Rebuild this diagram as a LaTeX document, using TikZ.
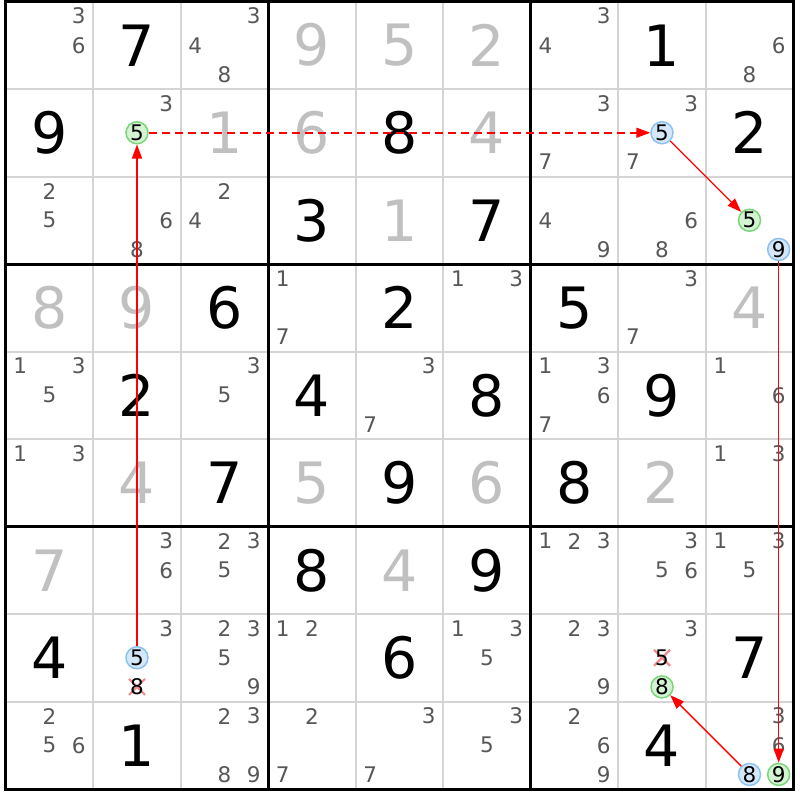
\documentclass[tikz,border=0pt]{standalone}
\usepackage{fontspec}
\setmainfont{DejaVu Sans}
\usetikzlibrary{arrows.meta,calc}
\definecolor{solvedcol}{HTML}{C0C0C0}
\definecolor{candcol}{HTML}{575757}
\definecolor{gridthin}{HTML}{D4D4D4}
\definecolor{greenfill}{HTML}{D3F3D3}
\definecolor{greenline}{HTML}{7CD47C}
\definecolor{bluefill}{HTML}{D5E8FA}
\definecolor{blueline}{HTML}{8CC2F2}
\definecolor{xcol}{HTML}{F28C8C}
\definecolor{linkred}{HTML}{FF0000}
\begin{document}
\begin{tikzpicture}[x=1pt,y=-1pt,
  bigdigit/.style={inner sep=0pt, font=\fontsize{57}{60}\selectfont},
  givenbig/.style={bigdigit, text=black},
  solvedbig/.style={bigdigit, text=solvedcol},
  cand/.style={inner sep=0pt, font=\fontsize{21.5}{23}\selectfont, text=candcol},
  greenc/.style={circle, draw=greenline, fill=greenfill, line width=1.5pt, minimum size=22pt, inner sep=0pt, font=\fontsize{21.5}{23}\selectfont, text=black},
  bluec/.style={greenc, draw=blueline, fill=bluefill},
  xcand/.style={cand, text=black},
  link/.style={color=linkred, line width=1.3pt, -{Triangle[length=14pt,width=10pt]}},
  weaklink/.style={link, line width=1.5pt, dash pattern=on 8pt off 5pt},
  xmark/.style={draw=xcol, line width=2.2pt},
  thinline/.style={draw=gridthin, line width=2pt},
  thickline/.style={draw=black, line width=3pt}
]
\def\ox{5.75}
\useasboundingbox (0,0) rectangle (800,800);
\fill[white] (0,0) rectangle (800,800);
% grid
\foreach \i in {1,2,4,5,7,8} {
  \draw[thinline] ({\ox+\i*87.5},1.5) -- ({\ox+\i*87.5},789);
  \draw[thinline] (\ox,{1.5+\i*87.5}) -- ({\ox+787.5},{1.5+\i*87.5});
}
\foreach \i in {3,6} {
  \draw[thickline] ({\ox+\i*87.5},1.5) -- ({\ox+\i*87.5},789);
  \draw[thickline] (\ox,{1.5+\i*87.5}) -- ({\ox+787.5},{1.5+\i*87.5});
}
\draw[thickline] (\ox,1.5) rectangle ({\ox+787.5},789);
% givens
\foreach \ro/\co/\vv in {1/2/7, 1/8/1, 2/1/9, 2/5/8, 2/9/2, 3/4/3, 3/6/7, 4/3/6, 4/5/2, 4/7/5, 5/2/2, 5/4/4, 5/6/8, 5/8/9, 6/3/7, 6/5/9, 6/7/8, 7/4/8, 7/6/9, 8/1/4, 8/5/6, 8/9/7, 9/2/1, 9/8/4}
  \node[givenbig] (v\ro\co) at ({\ox+(\co-0.5)*87.5},{1.5+(\ro-0.5)*87.5}) {\vv};
\foreach \ro/\co/\vv in {1/4/9, 1/5/5, 1/6/2, 2/3/1, 2/4/6, 2/6/4, 3/5/1, 4/1/8, 4/2/9, 4/9/4, 6/2/4, 6/4/5, 6/6/6, 6/8/2, 7/1/7, 7/5/4}
  \node[solvedbig] (v\ro\co) at ({\ox+(\co-0.5)*87.5},{1.5+(\ro-0.5)*87.5}) {\vv};
% candidates
\foreach \ro/\co/\kk in {1/1/3, 1/1/6, 1/3/3, 1/3/4, 1/3/8, 1/7/3, 1/7/4, 1/9/6, 1/9/8,
  2/2/3, 2/7/3, 2/7/7, 2/8/3, 2/8/7,
  3/1/2, 3/1/5, 3/2/6, 3/2/8, 3/3/2, 3/3/4, 3/7/4, 3/7/9, 3/8/6, 3/8/8,
  4/4/1, 4/4/7, 4/6/1, 4/6/3, 4/8/3, 4/8/7,
  5/1/1, 5/1/3, 5/1/5, 5/3/3, 5/3/5, 5/5/3, 5/5/7, 5/7/1, 5/7/3, 5/7/6, 5/7/7, 5/9/1, 5/9/6,
  6/1/1, 6/1/3, 6/9/1, 6/9/3,
  7/2/3, 7/2/6, 7/3/2, 7/3/3, 7/3/5, 7/7/1, 7/7/2, 7/7/3, 7/8/3, 7/8/5, 7/8/6, 7/9/1, 7/9/3, 7/9/5,
  8/2/3, 8/3/2, 8/3/3, 8/3/5, 8/3/9, 8/4/1, 8/4/2, 8/6/1, 8/6/3, 8/6/5, 8/7/2, 8/7/3, 8/7/9, 8/8/3,
  9/1/2, 9/1/5, 9/1/6, 9/3/2, 9/3/3, 9/3/8, 9/3/9, 9/4/2, 9/4/7, 9/5/3, 9/5/7, 9/6/3, 9/6/5, 9/7/2, 9/7/6, 9/7/9, 9/9/3, 9/9/6}
  \node[cand] (k\ro\co\kk) at ({\ox+(\co-1)*87.5+(mod(\kk-1,3)+0.5)*29.1667},{1.5+(\ro-1)*87.5+(floor((\kk-1)/3)+0.5)*29.1667}) {\kk};
% eliminated candidates
\foreach \ro/\co/\kk in {8/2/8, 8/8/5} {
  \coordinate (p\ro\co\kk) at ({\ox+(\co-1)*87.5+(mod(\kk-1,3)+0.5)*29.1667},{1.5+(\ro-1)*87.5+(floor((\kk-1)/3)+0.5)*29.1667});
  \draw[xmark] ($(p\ro\co\kk)+(-8,-8)$) -- ($(p\ro\co\kk)+(8,8)$);
  \draw[xmark] ($(p\ro\co\kk)+(-8,8)$) -- ($(p\ro\co\kk)+(8,-8)$);
  \node[xcand] (k\ro\co\kk) at (p\ro\co\kk) {\kk};
}
% circled candidates
\foreach \ro/\co/\kk/\st in {2/2/5/greenc, 2/8/5/bluec, 3/9/5/greenc, 3/9/9/bluec, 8/2/5/bluec, 8/8/8/greenc, 9/9/8/bluec, 9/9/9/greenc}
  \node[\st] (k\ro\co\kk) at ({\ox+(\co-1)*87.5+(mod(\kk-1,3)+0.5)*29.1667},{1.5+(\ro-1)*87.5+(floor((\kk-1)/3)+0.5)*29.1667}) {\kk};
% links
\begin{scope}[color=linkred]
\draw[link] (k825) -- (k225);
\draw[weaklink] (k225) -- (k285);
\draw[link] (k285) -- (k395);
\draw[link] (k399) -- (k999);
\draw[link] (k998) -- (k888);
\end{scope}
\end{tikzpicture}
\end{document}
